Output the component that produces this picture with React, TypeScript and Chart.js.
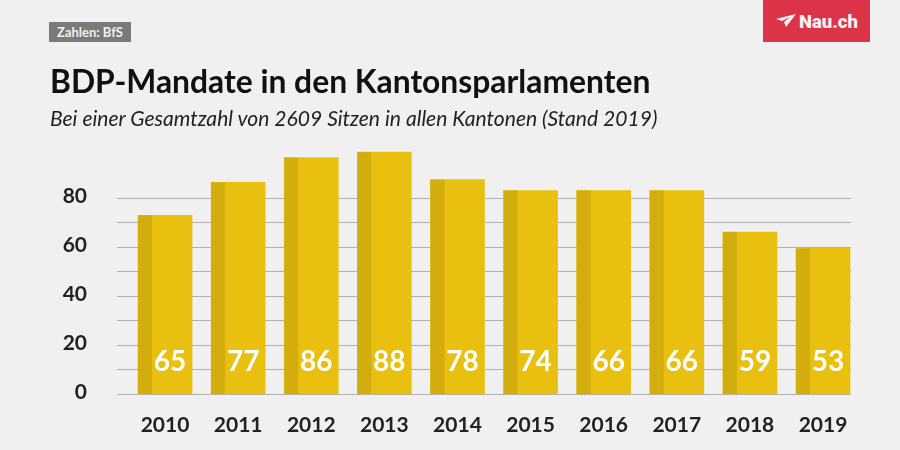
import React, { useEffect, useRef } from "react";
import { Chart, registerables } from "chart.js";

Chart.register(...registerables);

const years = [2010, 2011, 2012, 2013, 2014, 2015, 2016, 2017, 2018, 2019];
const barHeights = [73, 86.4, 96.5, 98.7, 87.5, 83.1, 83.1, 83.1, 66.2, 59.5];
const barLabels = [65, 77, 86, 88, 78, 74, 66, 66, 59, 53];
const yTickLabels = [0, 20, 40, 60, 80];
const titleText = "BDP-Mandate in den Kantonsparlamenten";
const subtitleText = "Bei einer Gesamtzahl von 2609 Sitzen in allen Kantonen (Stand 2019)";
const sourceText = "Zahlen: BfS";
const brandText = "Nau.ch";

const FONT = "Lato, 'Open Sans', sans-serif";
const BG = "#f0f0f0";
const LIGHT = "#e9c00f";
const DARK = "#d2ad0d";

const barDecor = {
  id: "barDecor",
  afterDatasetsDraw(chart: any) {
    const { ctx } = chart;
    const meta = chart.getDatasetMeta(0);
    ctx.save();
    meta.data.forEach((bar: any, i: number) => {
      const left = bar.x - bar.width / 2;
      ctx.fillStyle = DARK;
      ctx.fillRect(left, bar.y, 14, bar.base - bar.y);
      ctx.fillStyle = "#ffffff";
      ctx.font = `bold 28px ${FONT}`;
      ctx.textAlign = "center";
      ctx.textBaseline = "alphabetic";
      ctx.fillText(String(barLabels[i]), bar.x + 5, 371);
    });
    ctx.restore();
  },
};

export default function App() {
  const ref = useRef<HTMLCanvasElement>(null);
  useEffect(() => {
    document.body.style.margin = "0";
    document.body.style.background = BG;
    const chart = new Chart(ref.current as HTMLCanvasElement, {
      type: "bar",
      data: {
        labels: years,
        datasets: [
          {
            data: years.map((y, i) => ({ x: y, y: barHeights[i] })),
            backgroundColor: LIGHT,
            barThickness: 54,
            borderWidth: 0,
          },
        ],
      } as any,
      options: {
        responsive: false,
        animation: false,
        layout: { padding: { top: 149, right: 49, left: 0, bottom: 0 } },
        plugins: { legend: { display: false }, tooltip: { enabled: false } },
        scales: {
          x: {
            type: "linear",
            offset: false,
            min: 2009.343,
            max: 2019.383,
            afterFit: (s: any) => { s.height = 55.5; },
            grid: { display: false },
            border: { display: false },
            ticks: {
              stepSize: 1,
              includeBounds: false,
              padding: 10,
              color: "#222222",
              font: { family: FONT, size: 21, weight: "bold" },
              maxRotation: 0,
              callback: (v: any) => String(v),
            },
          },
          y: {
            min: 0,
            max: 100,
            afterFit: (s: any) => { s.width = 117; },
            border: { display: false },
            grid: {
              drawTicks: false,
              lineWidth: 1,
              color: (c: any) => (c.tick && c.tick.value <= 80 ? "#b0b0b0" : "rgba(0,0,0,0)"),
            },
            ticks: {
              stepSize: 10,
              padding: 30,
              labelOffset: -2,
              color: "#222222",
              font: { family: FONT, size: 21, weight: "bold" },
              autoSkip: false,
              callback: (v: any) => (yTickLabels.includes(v) ? String(v) : ""),
            },
          },
        },
      } as any,
      plugins: [barDecor],
    });
    return () => chart.destroy();
  }, []);

  const abs = { position: "absolute", whiteSpace: "nowrap", fontFamily: FONT } as const;
  return (
    <div style={{ position: "relative", width: 900, height: 450, overflow: "hidden", background: BG }}>
      <canvas ref={ref} width={900} height={450} style={{ display: "block" }} />
      <div style={{ ...abs, left: 49, top: 22, width: 82, height: 20, background: "#7a7a7a", color: "#f0f0f0", fontSize: 13, fontWeight: 700, lineHeight: "21px", textAlign: "center" }}>{sourceText}</div>
      <div style={{ ...abs, left: 50, top: 62, color: "#111", fontSize: 31.8, fontWeight: 700, lineHeight: "38px" }}>{titleText}</div>
      <div style={{ ...abs, left: 50, top: 104, color: "#222", fontSize: 21.07, fontStyle: "italic", lineHeight: "28px" }}>{subtitleText}</div>
      <div style={{ ...abs, left: 763, top: 0, width: 107, height: 42, background: "#dd3349" }}>
        <svg width="20" height="14" viewBox="0 0 20 14" style={{ position: "absolute", left: 13, top: 14 }}>
          <path d="M0 5 L20 0 L10 13 L8 8 L14 3 L6 7 Z" fill="#f7f0f0" />
        </svg>
        <span style={{ position: "absolute", left: 36, top: 11, color: "#f7f0f0", fontSize: 18.5, fontWeight: 900, lineHeight: "22px", fontFamily: "Roboto, sans-serif" }}>{brandText}</span>
      </div>
    </div>
  );
}
